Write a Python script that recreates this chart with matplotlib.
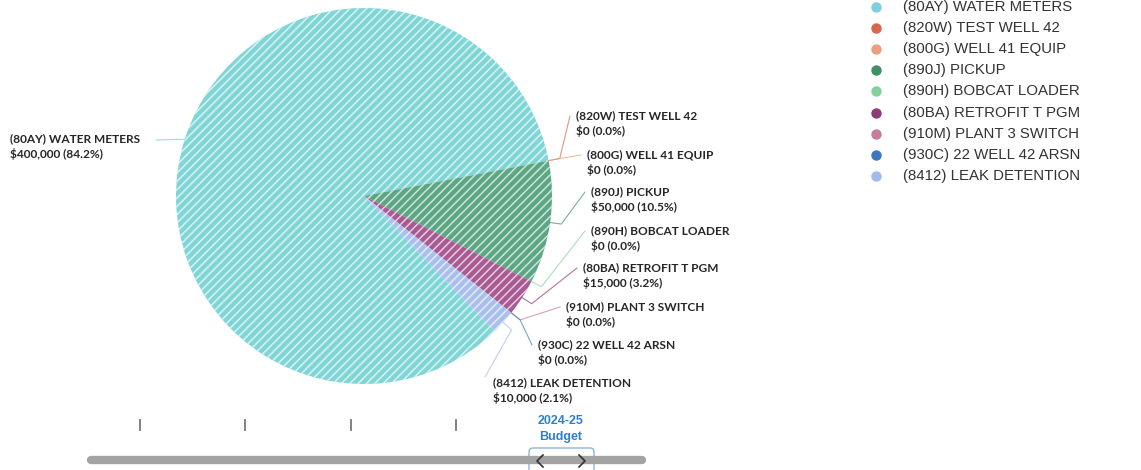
import numpy as np
import matplotlib
matplotlib.use("Agg")
import matplotlib.pyplot as plt
from matplotlib.patches import FancyBboxPatch
from matplotlib.lines import Line2D

# ---- data ----
projects = [
    "(80AY) WATER METERS",
    "(820W) TEST WELL 42",
    "(800G) WELL 41 EQUIP",
    "(890J) PICKUP",
    "(890H) BOBCAT LOADER",
    "(80BA) RETROFIT T PGM",
    "(910M) PLANT 3 SWITCH",
    "(930C) 22 WELL 42 ARSN",
    "(8412) LEAK DETENTION",
]
amounts = [400000, 0, 0, 50000, 0, 15000, 0, 0, 10000]
colors = ["#7dd0dc", "#d9654b", "#eba07f", "#3f8f68", "#86d09e",
          "#8d3c79", "#c97b9b", "#3d78bf", "#a3bbea"]
# striped slice fills (slightly lighter than the legend markers)
fills = ["#80d6d6", "#dd7a63", "#eeae90", "#5ca684", "#97d6ab",
         "#aa5a92", "#d08ca8", "#5a8ccb", "#a9c0ee"]
periods = ["", "", "", "", "2024-25\nBudget"]
selected_period = 4

W, H = 1141, 470
CX, CY, R = 364, 196, 188   # pie centre / radius in pixels

plt.rcParams["hatch.linewidth"] = 1.1

fig = plt.figure(figsize=(W / 100, H / 100), dpi=100)
ax = fig.add_axes([0, 0, 1, 1])


def px(x, y):
    """pixel position -> data coordinates of the pie axes"""
    return (x - CX) / R, (CY - y) / R


start = 314
wedges, _ = ax.pie(amounts, colors=fills, startangle=start, counterclock=False,
                   radius=1, center=(0, 0), frame=True,
                   wedgeprops=dict(linewidth=0, edgecolor=(1, 1, 1, 0.7), hatch="////"))
ax.set_xlim(-CX / R, (W - CX) / R)
ax.set_ylim(-(H - CY) / R, CY / R)
ax.set_aspect("auto")
ax.axis("off")

total = sum(amounts)
# label anchor: left edge x, first-line centre y (pixels)
label_pos = [
    (10, 139),
    (576, 116),
    (587, 155),
    (591, 192),
    (591, 231),
    (583, 268),
    (566, 307),
    (538, 345),
    (493, 383),
]

for w, name, amt, col, (lx, ly) in zip(wedges, projects, amounts, colors, label_pos):
    mid = np.deg2rad((w.theta1 + w.theta2) / 2)
    ex, ey = np.cos(mid), np.sin(mid)
    pct = 100 * amt / total
    ax.text(*px(lx, ly), name, ha="left", va="center", fontsize=8.6,
            fontweight="bold", family="Lato", color="#262626")
    ax.text(*px(lx, ly + 15), f"${amt:,.0f} ({pct:.1f}%)", ha="left", va="center",
            fontsize=8.6, fontweight="bold", family="Lato", color="#262626")
    # connector from slice edge to label
    if ex < 0:
        tx, ty = px(lx + 146, ly + 1)
        ax.plot([ex, tx], [ey, ty], color=col, lw=0.8, alpha=0.75)
        continue
    if ly + 15 > CY + R * 0.95:
        tx, ty = px(lx - 8, ly - 6)
    else:
        tx, ty = px(lx - 6, ly)
    bx, by = 1.06 * ex, 1.06 * ey
    ax.plot([ex, bx, tx], [ey, by, ty], color=col, lw=0.8, alpha=0.7,
            solid_capstyle="round")

# ---- legend ----
for i, (name, col) in enumerate(zip(projects, colors)):
    y = 7 + 21.1 * i
    fig.add_artist(Line2D([876 / W], [1 - y / H], marker="o", markersize=6.5,
                          color=col, linestyle="none"))
    fig.text(903 / W, 1 - y / H, name, ha="left", va="center", fontsize=10.8,
             family="Liberation Sans", color="#333333")

# ---- period slider ----
sax = fig.add_axes([0, 0, 1, 1], facecolor="none")
sax.set_xlim(0, W)
sax.set_ylim(H, 0)
sax.axis("off")
x0, step = 140, 105.25
for i, p in enumerate(periods):
    x = x0 + i * step
    if i == selected_period:
        for j, t in enumerate(p.split("\n")):
            sax.text(x, 421 + 16 * j, t, ha="center", va="center", fontsize=9,
                     fontweight="bold", family="Liberation Sans", color="#2d7fd3")
    else:
        sax.plot([x, x], [420, 430], color="#777777", lw=1.3)

sax.plot([91, 642], [460, 460], color="#a3a3a3", lw=6, solid_capstyle="round")
box = FancyBboxPatch((529, 448), 65, 30, boxstyle="round,pad=0,rounding_size=4",
                     facecolor="white", edgecolor="#8fb3dd", lw=1.0)
sax.add_patch(box)
for pts in ([(543, 455), (537, 461), (543, 467)],
            [(579, 455), (585, 461), (579, 467)]):
    xs, ys = zip(*pts)
    sax.plot(xs, ys, color="#333333", lw=1.2)

fig.savefig("out.png", dpi=100, facecolor="white")
